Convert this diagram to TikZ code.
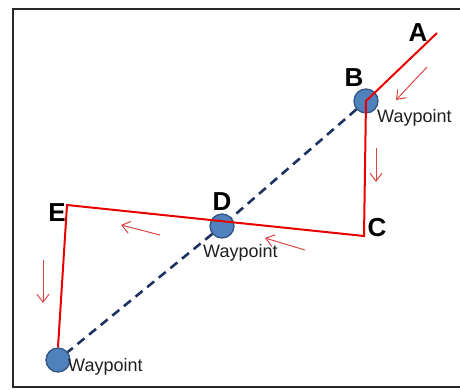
\documentclass[tikz,border=0pt]{standalone}
\usepackage{fontspec}
\setmainfont{Liberation Sans}
\usetikzlibrary{arrows.meta}
\definecolor{wpfill}{RGB}{79,129,189}
\definecolor{wpdraw}{RGB}{52,86,130}
\definecolor{pathred}{RGB}{232,0,0}
\definecolor{hintred}{RGB}{222,70,70}
\definecolor{navy}{RGB}{28,50,96}
\definecolor{framegray}{RGB}{40,40,40}
\tikzset{
  wp/.style={circle, fill=wpfill, draw=wpdraw, line width=1.3pt, minimum size=24pt, inner sep=0pt},
  letter/.style={font=\fontsize{26}{26}\selectfont\bfseries, inner sep=0pt},
  wplabel/.style={font=\fontsize{18}{18}\selectfont, text=black!88, inner sep=0pt},
  route/.style={draw=pathred, line width=2pt},
  direct/.style={draw=navy, line width=2.6pt, dash pattern=on 9pt off 6pt},
  hint/.style={draw=hintred, line width=1pt, -{Straight Barb[length=8pt,width=12pt]}}
}
\begin{document}
\begin{tikzpicture}[x=1pt,y=-1pt]
\useasboundingbox (0,0) rectangle (460,389);
\draw[framegray, line width=2pt] (461,9) -- (13,9) -- (13,387) -- (461,387);
% waypoints
\node[wp] (B) at (366,101) {};
\node[wp] (D) at (222,226) {};
\node[wp] (W) at (58,360) {};
\coordinate (A) at (437,33);
\coordinate (C) at (364,236);
\coordinate (E) at (67,205);
% direct dashed route
\draw[direct] (B) -- (D) -- (W);
% red route
\draw[route] (A) -- (B.center) -- (C) -- (E) -- (W.north);
% labels
\node[letter] (lA) at (418,33) {A};
\node[letter] (lB) at (354,78) {B};
\node[letter] (lC) at (377,228) {C};
\node[letter] (lD) at (222,202) {D};
\node[letter] (lE) at (57,213) {E};
\node[wplabel, anchor=west] (tB) at (377,118) {Waypoint};
\node[wplabel, anchor=west] (tD) at (203,253) {Waypoint};
\node[wplabel, anchor=west] (tW) at (68,367) {Waypoint};
% direction hints
\coordinate (h1s) at (427,67); \coordinate (h1e) at (396,100);
\coordinate (h2s) at (376,148); \coordinate (h2e) at (376,182);
\coordinate (h3s) at (305,250); \coordinate (h3e) at (265,238);
\coordinate (h4s) at (160,235); \coordinate (h4e) at (121,225);
\coordinate (h5s) at (43,260); \coordinate (h5e) at (43,303);
\draw[hint] (h1s) -- (h1e);
\draw[hint] (h2s) -- (h2e);
\draw[hint] (h3s) -- (h3e);
\draw[hint] (h4s) -- (h4e);
\draw[hint] (h5s) -- (h5e);
\end{tikzpicture}
\end{document}
